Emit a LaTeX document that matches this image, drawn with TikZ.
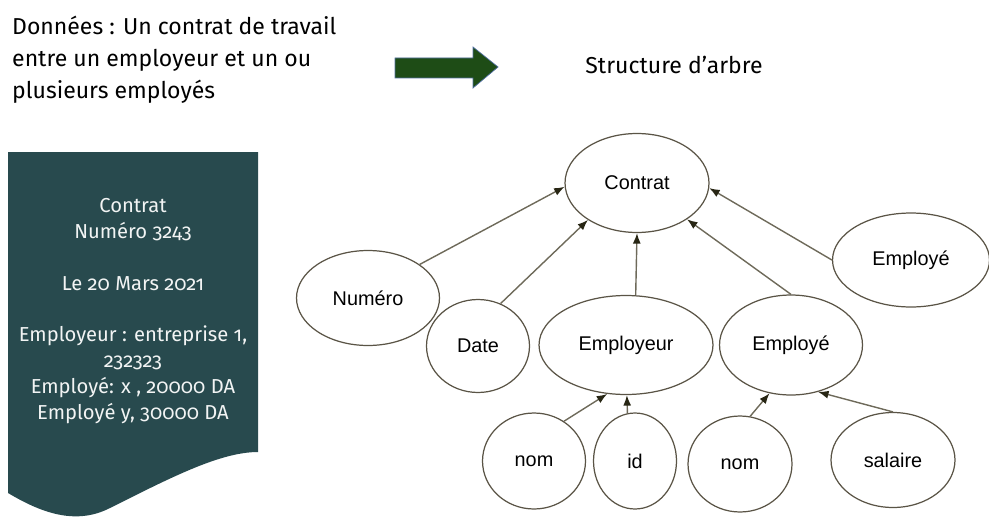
\documentclass[tikz,border=0pt]{standalone}
\usepackage{fontspec}
\setmainfont{Fira Sans}[Numbers=OldStyle]
\newfontfamily\arialfont{Liberation Sans}
\usepackage{tikz}
\usetikzlibrary{shapes.geometric, arrows.meta, positioning, calc}
\definecolor{docteal}{RGB}{40, 74, 78}
\definecolor{arrowgreen}{RGB}{30, 76, 22}
\definecolor{arrowedge}{RGB}{80, 110, 160}
\definecolor{linkgrey}{RGB}{110, 106, 90}
\definecolor{tipdark}{RGB}{40, 38, 20}
\definecolor{ringgrey}{RGB}{90, 84, 70}

\begin{document}
\begin{tikzpicture}[x=0.02cm, y=-0.02cm,
        ent/.style={ellipse, draw=ringgrey, line width=0.7pt, inner sep=0pt, font=\arialfont\fontsize{11.3}{13}\selectfont},
        lien/.style={draw=linkgrey, line width=0.8pt, -{Latex[length=2.1mm, width=1.6mm, color=tipdark]}},
        doctext/.style={text=white!94!docteal, align=center, font=\fontsize{11.5}{14.7}\selectfont},
        headtext/.style={text=black, font=\fontsize{13.1}{18.1}\selectfont}]

        \useasboundingbox (0,0) rectangle (989,517);

        % Document
        \fill[docteal] (8,152) -- (258,152) -- (258,452)
            .. controls (220,452) and (170,478) .. (110,508)
            .. controls (75,526) and (40,512) .. (8,493) -- cycle;
        \node [doctext] (docbody) at (133,311) {Contrat\\Numéro 3243\\[14.7pt]Le 20 Mars 2021\\[14.7pt]Employeur : entreprise 1,\\232323\\Employé: x , 20000 DA\\Employé y, 30000 DA};

        % Header
        \node [headtext, anchor=north west, align=left] (donnees) at (6,10) {Données : Un contrat de travail\\entre un employeur et un ou\\plusieurs employés};
        \fill[arrowgreen, draw=arrowedge, line width=0.4pt] (395,58) -- (473,58) -- (473,47) -- (498,67) -- (473,88) -- (473,78) -- (395,78) -- cycle;
        \node [headtext] (arbre) at (674,65) {Structure d’arbre};

        % Nodes
        \node [ent, minimum width=2.88cm, minimum height=1.98cm] (contrat) at (637,183) {Contrat};
        \node [ent, minimum width=2.86cm, minimum height=1.90cm] (numero) at (368,298) {Numéro};
        \node [ent, minimum width=2.06cm, minimum height=1.86cm] (date) at (478,346) {Date};
        \node [ent, minimum width=3.48cm, minimum height=1.98cm] (employeur) at (626,345) {Employeur};
        \node [ent, minimum width=2.86cm, minimum height=2.00cm] (employe) at (791,345) {Employé};
        \node [ent, minimum width=3.14cm, minimum height=1.88cm] (employe2) at (911,260) {Employé};
        \node [ent, minimum width=2.06cm, minimum height=1.92cm] (nom) at (534,461) {nom};
        \node [ent, minimum width=1.66cm, minimum height=1.92cm] (id) at (635,461) {id};
        \node [ent, minimum width=2.08cm, minimum height=1.92cm] (nom2) at (740,464) {nom};
        \node [ent, minimum width=2.48cm, minimum height=1.90cm] (salaire) at (893,460) {salaire};

        % Arrows
        \path [lien] (numero.33) -- (contrat.183);
        \path [lien] (date.62) -- (contrat.217);
        \path [lien] (employeur.79) -- (contrat.270);
        \path [lien] (employe.90) -- (contrat.324);
        \path [lien] (employe2.180) -- (contrat.356);
        \path [lien] (nom.53) -- (employeur.249);
        \path [lien] (id.99) -- (employeur.271);
        \path [lien] (nom2.78) -- (employe.246);
        \path [lien] (salaire.90) -- (employe.300);
    \end{tikzpicture}
\end{document}
